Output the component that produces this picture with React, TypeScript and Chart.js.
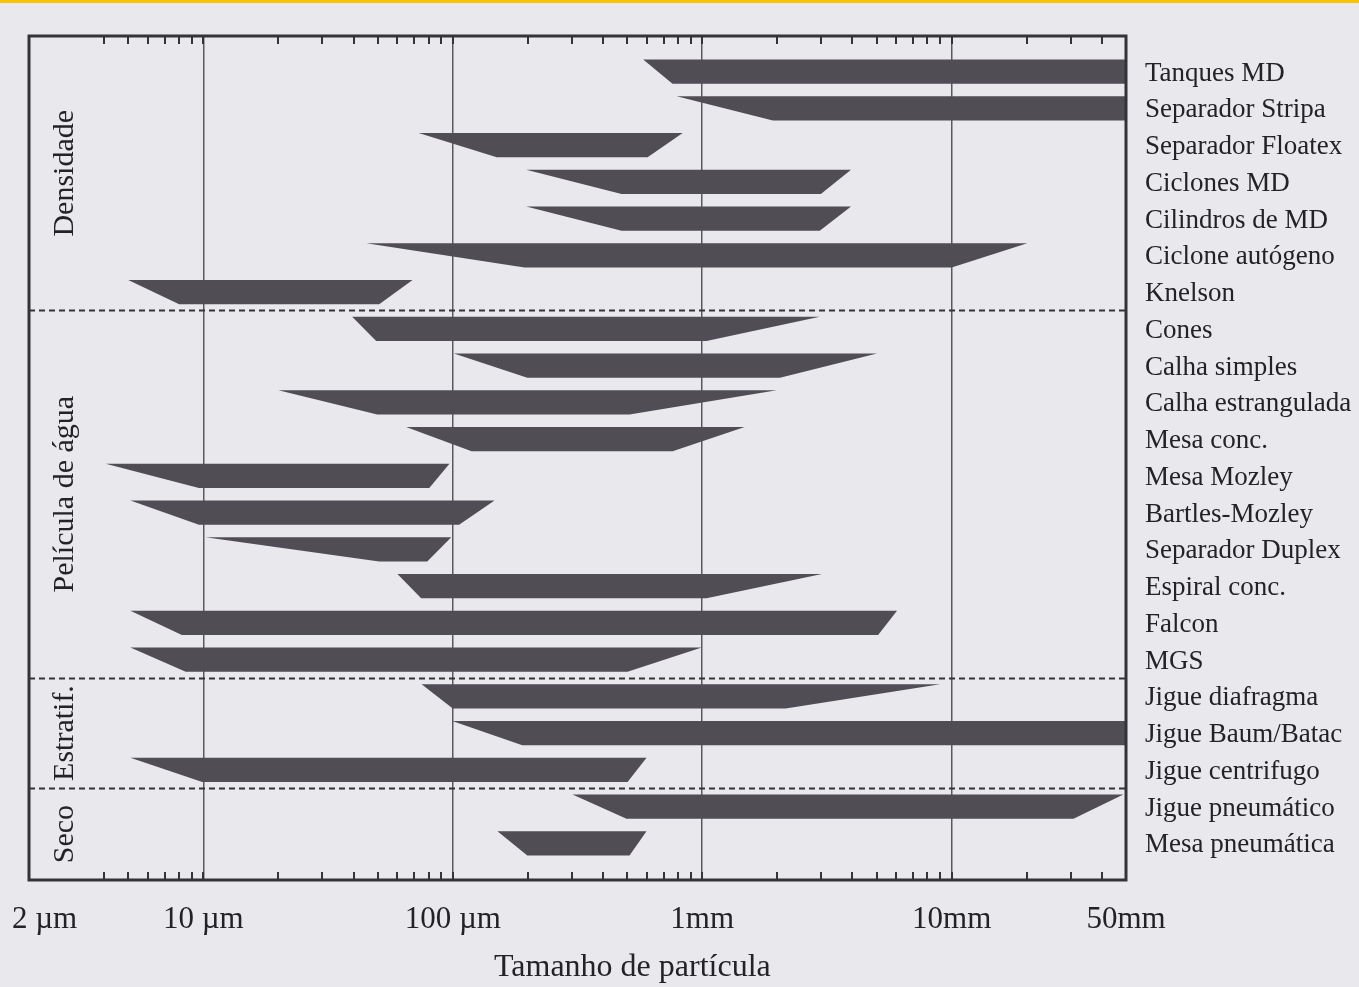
import { useEffect, useRef } from 'react';
import { Chart, registerables } from 'chart.js';

Chart.register(...registerables);

// Equipment (rows, top to bottom)
const equipment = [
  'Tanques MD', 'Separador Stripa', 'Separador Floatex', 'Ciclones MD', 'Cilindros de MD',
  'Ciclone autógeno', 'Knelson', 'Cones', 'Calha simples', 'Calha estrangulada', 'Mesa conc.',
  'Mesa Mozley', 'Bartles-Mozley', 'Separador Duplex', 'Espiral conc.', 'Falcon', 'MGS',
  'Jigue diafragma', 'Jigue Baum/Batac', 'Jigue centrifugo', 'Jigue pneumático', 'Mesa pneumática',
];

// Full size range (upper edge of each bar), in µm
const rangeMin = [580, 790, 73, 197, 197, 45, 5, 39.5, 101, 20, 65, 4.06, 5.1, 10.2, 60, 5.1, 5.1, 75, 99.5, 5.1, 302, 151];
const rangeMax = [50000, 50000, 835, 3950, 3950, 20100, 69, 2960, 5020, 1990, 1480, 97, 147, 98.6, 3020, 6040, 995, 8990, 50000, 598, 48800, 598];
// Most effective range (lower edge of each bar), in µm
const effMin = [760, 1920, 150, 475, 475, 194, 8, 49.3, 199, 49.8, 119, 9.6, 9.6, 50.7, 74.7, 8.2, 8.5, 100, 190, 9.9, 497, 199];
const effMax = [50000, 50000, 604, 2990, 2960, 10000, 50.7, 1040, 2050, 511, 761, 80.5, 106, 79, 1040, 5070, 502, 2160, 50000, 502, 30800, 511];

// Groups (principle of separation)
const groupNames = ['Densidade', 'Película de água', 'Estratif.', 'Seco'];
const groupFirstRow = [0, 7, 17, 20];

// X axis ticks (µm)
const xTickValues = [
  2, 4, 5, 6, 7, 8, 9,
  10, 20, 30, 40, 50, 60, 70, 80, 90,
  100, 200, 300, 400, 500, 600, 700, 800, 900,
  1000, 2000, 3000, 4000, 5000, 6000, 7000, 8000, 9000,
  10000, 20000, 30000, 40000, 50000,
];
const xMajorValues = [10, 100, 1000, 10000];
const xLabelValues = [2, 10, 100, 1000, 10000, 50000];
const xLabelTexts = ['    2 µm', '10 µm', '100 µm', '1mm', '10mm', '50mm'];
const xTitle = 'Tamanho de partícula';

const FONT = '"Liberation Serif", "DejaVu Serif", serif';
const TEXT = '#232227';
const BAR = '#504d54';
const LINE = '#343338';
const PAPER = '#e8e8ed';
const HALF = 0.33;

const decorPlugin = {
  id: 'decor',
  beforeDraw(chart: any) {
    const { ctx, width, height } = chart;
    ctx.save();
    ctx.fillStyle = PAPER;
    ctx.fillRect(0, 0, width, height);
    ctx.fillStyle = '#f6c500';
    ctx.fillRect(0, 0, width, 3);
    ctx.restore();
  },
  afterDatasetsDraw(chart: any) {
    const { ctx, chartArea: a, scales } = chart;
    const x = scales.x;
    const y = scales.y;
    ctx.save();
    // dashed group separators
    ctx.strokeStyle = LINE;
    ctx.lineWidth = 2;
    ctx.setLineDash([6, 4]);
    for (let g = 1; g < groupFirstRow.length; g++) {
      const py = Math.round(y.getPixelForValue(groupFirstRow[g] - 0.5)) + 0.5;
      ctx.beginPath();
      ctx.moveTo(a.left, py);
      ctx.lineTo(a.right, py);
      ctx.stroke();
    }
    ctx.setLineDash([]);
    // inward minor ticks (top and bottom)
    ctx.lineWidth = 2;
    ctx.strokeStyle = LINE;
    for (const v of xTickValues) {
      if (v <= x.min || v >= x.max) continue;
      const px = Math.round(x.getPixelForValue(v));
      ctx.beginPath();
      ctx.moveTo(px, a.top);
      ctx.lineTo(px, a.top + 8);
      ctx.moveTo(px, a.bottom);
      ctx.lineTo(px, a.bottom - 8);
      ctx.stroke();
    }
    // frame
    ctx.lineWidth = 3;
    ctx.strokeRect(a.left, a.top, a.right - a.left, a.bottom - a.top);
    // group labels
    ctx.fillStyle = TEXT;
    ctx.font = `30px ${FONT}`;
    ctx.textAlign = 'center';
    ctx.textBaseline = 'middle';
    for (let g = 0; g < groupNames.length; g++) {
      const start = g === 0 ? y.min : groupFirstRow[g] - 0.5;
      const end = g === groupNames.length - 1 ? y.max : groupFirstRow[g + 1] - 0.5;
      const py = y.getPixelForValue((start + end) / 2);
      ctx.save();
      ctx.translate(a.left + 36, py);
      ctx.rotate(-Math.PI / 2);
      ctx.fillText(groupNames[g], 0, 0);
      ctx.restore();
    }
    // axis title
    ctx.font = `32px ${FONT}`;
    ctx.fillText(xTitle, a.left + (a.right - a.left) * 0.55, 968);
    ctx.restore();
  },
};

export default function App() {
  const ref = useRef<HTMLCanvasElement>(null);

  useEffect(() => {
    const datasets = equipment.map((name, i) => ({
      label: name,
      data: [
        { x: rangeMin[i], y: i - HALF },
        { x: effMin[i], y: i + HALF },
        { x: effMax[i], y: i + HALF },
        { x: rangeMax[i], y: i - HALF },
      ],
      fill: 'shape',
      backgroundColor: BAR,
      borderColor: 'rgba(0,0,0,0)',
      borderWidth: 0,
      pointRadius: 0,
      pointHoverRadius: 0,
      tension: 0,
    }));

    const chart = new Chart(ref.current as HTMLCanvasElement, {
      type: 'line',
      data: { datasets } as any,
      plugins: [decorPlugin],
      options: {
        responsive: false,
        animation: false,
        events: [],
        layout: { padding: { left: 29, top: 36, right: 0, bottom: 0 } },
        plugins: {
          legend: { display: false },
          tooltip: { enabled: false },
        },
        scales: {
          x: {
            type: 'logarithmic',
            position: 'bottom',
            min: 2,
            max: 50000,
            afterBuildTicks: (s: any) => {
              s.ticks = xTickValues.map((v) => ({ value: v }));
            },
            afterFit: (s: any) => {
              s.height = 107;
              s.paddingLeft = 0;
              s.paddingRight = 0;
            },
            grid: {
              drawTicks: false,
              lineWidth: 1.5,
              color: (c: any) =>
                c.tick && xMajorValues.includes(c.tick.value) ? '#5a595e' : 'rgba(0,0,0,0)',
            },
            border: { display: false },
            ticks: {
              autoSkip: false,
              maxRotation: 0,
              minRotation: 0,
              padding: 21,
              color: TEXT,
              font: { family: FONT, size: 31 },
              callback: (v: any) => {
                const k = xLabelValues.indexOf(Number(v));
                return k >= 0 ? xLabelTexts[k] : '';
              },
            },
          },
          y: {
            type: 'linear',
            position: 'right',
            reverse: true,
            min: -0.97,
            max: 22,
            afterBuildTicks: (s: any) => {
              s.ticks = equipment.map((_, i) => ({ value: i }));
            },
            afterFit: (s: any) => {
              s.width = 233;
              s.paddingTop = 0;
              s.paddingBottom = 0;
            },
            grid: { display: false, drawTicks: false },
            border: { display: false },
            ticks: {
              autoSkip: false,
              padding: 19,
              labelOffset: 2,
              color: TEXT,
              font: { family: FONT, size: 27 },
              callback: (v: any) => equipment[Number(v)] ?? '',
            },
          },
        },
      } as any,
    });
    return () => chart.destroy();
  }, []);

  return (
    <div style={{ position: 'fixed', left: 0, top: 0, width: 1359, height: 987 }}>
      <canvas ref={ref} width={1359} height={987} style={{ display: 'block', width: 1359, height: 987 }} />
    </div>
  );
}
